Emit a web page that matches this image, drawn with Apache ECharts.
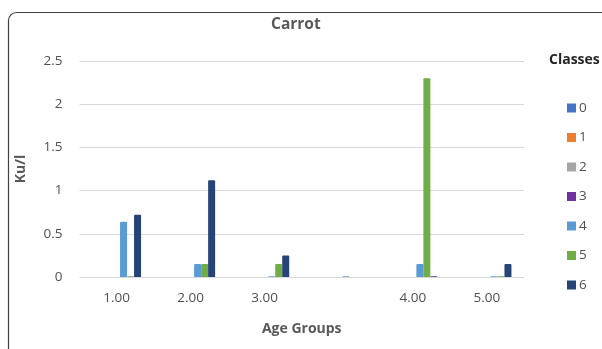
<!DOCTYPE html>
<html><head><meta charset="utf-8">
<script src="https://cdn.jsdelivr.net/npm/echarts@6/dist/echarts.min.js"></script>
<style>html,body{margin:0;padding:0;background:#fff}#c{width:602px;height:349px}</style>
</head><body><div id="c"></div>
<script>
const categories = ['1.00', '2.00', '3.00', '', '4.00', '5.00'];
const classNames = ['0', '1', '2', '3', '4', '5', '6'];
const class0 = [0, 0, 0, 0, 0, 0];
const class1 = [0, 0, 0, 0, 0, 0];
const class2 = [0, 0, 0, 0, 0, 0];
const class3 = [0, 0, 0, 0, 0, 0];
const class4 = [0.64, 0.15, 0.01, 0.01, 0.15, 0.01];
const class5 = [0.01, 0.15, 0.15, 0, 2.3, 0.01];
const class6 = [0.72, 1.12, 0.25, 0, 0.01, 0.15];
const yTicks = [0, 0.5, 1, 1.5, 2, 2.5];
const colors = ['#4472C4', '#ED7D31', '#A5A5A5', '#7030A0', '#5B9BD5', '#70AD47', '#264478'];

const values = [class0, class1, class2, class3, class4, class5, class6];
const font = '"Open Sans", "Liberation Sans", sans-serif';
const chart = echarts.init(document.getElementById('c'), null, {renderer: 'canvas'});
chart.setOption({
  animation: false,
  textStyle: {fontFamily: font},
  color: colors,
  title: [
    {text: 'Carrot', left: 266, top: 12, textStyle: {fontSize: 15.5, fontWeight: 'bold', color: '#595959', fontFamily: font}},
    {text: 'Classes', left: 544, top: 48, textStyle: {fontSize: 14, fontWeight: 'bold', color: '#262626', fontFamily: font}}
  ],
  legend: {
    orient: 'vertical', left: 562, top: 96,
    itemWidth: 9, itemHeight: 9, itemGap: 15.5,
    icon: 'rect',
    textStyle: {fontSize: 13.5, fontWeight: 500, color: '#505050', fontFamily: font, padding: [0, 0, 0, -2]},
    data: classNames
  },
  grid: {left: 79.5, right: 78, top: 61, bottom: 72},
  xAxis: {
    type: 'category', data: categories,
    name: 'Age Groups', nameLocation: 'middle', nameGap: 45,
    nameTextStyle: {fontSize: 14, fontWeight: 'bold', color: '#595959'},
    axisLine: {show: false}, axisTick: {show: false},
    axisLabel: {fontSize: 13.5, fontWeight: 500, color: '#505050', margin: 14}
  },
  yAxis: {
    type: 'value', min: yTicks[0], max: yTicks[yTicks.length - 1], interval: 0.5,
    name: 'Ku/l', nameLocation: 'middle', nameGap: 51,
    nameTextStyle: {fontSize: 14, fontWeight: 'bold', color: '#595959'},
    axisLine: {show: false}, axisTick: {show: false},
    axisLabel: {fontSize: 13.5, fontWeight: 500, color: '#505050', margin: 17},
    splitLine: {lineStyle: {color: '#d9d9d9', width: 1}}
  },
  series: classNames.map((n, i) => ({
    name: n, type: 'bar', data: values[i],
    barWidth: 7, barGap: '0%',
    itemStyle: {color: colors[i], borderRadius: [1, 1, 0, 0]}
  })),
  graphic: [{
    type: 'rect', silent: true,
    shape: {x: 8.5, y: 12.5, width: 620, height: 360, r: 8},
    style: {fill: 'none', stroke: '#404040', lineWidth: 1.2}
  }]
});
</script></body></html>
